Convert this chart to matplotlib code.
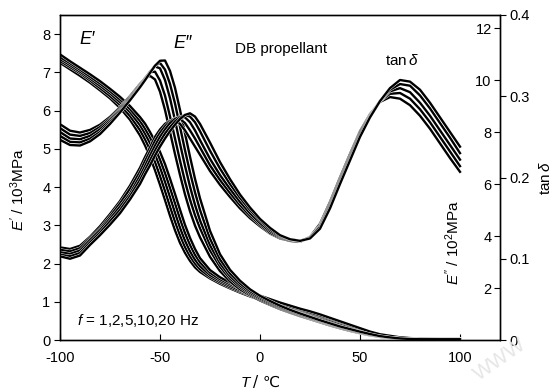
import matplotlib
matplotlib.use("Agg")
import matplotlib.pyplot as plt
import matplotlib.patheffects as pe

plt.rcParams['font.family'] = ['Liberation Sans', 'DejaVu Sans']
plt.rcParams['mathtext.fontset'] = 'custom'
plt.rcParams['mathtext.rm'] = 'Liberation Sans'
plt.rcParams['mathtext.it'] = 'Liberation Sans:italic'
plt.rcParams['mathtext.bf'] = 'Liberation Sans:bold'
plt.rcParams['axes.unicode_minus'] = False

# ---------------- data ----------------
freqs = [1, 2, 5, 10, 20]
T = [-100, -95, -90, -85, -80, -75, -70, -65, -60, -57.5, -55, -52.5, -50, -47.5, -45,
     -42.5, -40, -37.5, -35, -32.5, -30, -25, -20, -15, -10, -5, 0, 5, 10, 15, 20, 25,
     30, 35, 40, 45, 50, 55, 60, 65, 70, 75, 80, 85, 90, 95, 100]

# storage modulus E' (10^3 MPa)
Ep_1 = [7.25, 7.08, 6.91, 6.73, 6.53, 6.32, 6.07, 5.76, 5.35, 5.09, 4.79, 4.44, 4.06, 3.66, 3.25,
        2.87, 2.54, 2.28, 2.07, 1.90, 1.78, 1.61, 1.47, 1.35, 1.24, 1.14, 1.05, 0.96, 0.88, 0.81, 0.73, 0.65,
        0.57, 0.48, 0.39, 0.30, 0.21, 0.14, 0.10, 0.06, 0.04, 0.03, 0.03, 0.03, 0.02, 0.02, 0.02]
Ep_2 = [7.30, 7.14, 6.98, 6.79, 6.59, 6.38, 6.15, 5.86, 5.49, 5.25, 4.98, 4.66, 4.29, 3.90, 3.49,
        3.10, 2.74, 2.43, 2.19, 2.00, 1.85, 1.65, 1.51, 1.38, 1.27, 1.17, 1.08, 0.99, 0.91, 0.83, 0.76, 0.68,
        0.59, 0.50, 0.41, 0.32, 0.24, 0.16, 0.11, 0.07, 0.045, 0.035, 0.03, 0.03, 0.03, 0.03, 0.03]
Ep_5 = [7.35, 7.19, 7.02, 6.84, 6.65, 6.45, 6.22, 5.96, 5.62, 5.40, 5.15, 4.86, 4.52, 4.14, 3.74,
        3.33, 2.94, 2.60, 2.32, 2.10, 1.93, 1.70, 1.55, 1.42, 1.30, 1.20, 1.10, 1.02, 0.93, 0.85, 0.78, 0.70,
        0.62, 0.53, 0.44, 0.35, 0.26, 0.18, 0.12, 0.08, 0.05, 0.04, 0.03, 0.03, 0.03, 0.03, 0.03]
Ep_10 = [7.40, 7.24, 7.07, 6.89, 6.71, 6.51, 6.29, 6.04, 5.73, 5.53, 5.30, 5.03, 4.72, 4.37, 3.98,
         3.58, 3.17, 2.80, 2.49, 2.23, 2.03, 1.76, 1.59, 1.46, 1.34, 1.23, 1.13, 1.04, 0.95, 0.87, 0.80, 0.72,
         0.64, 0.56, 0.47, 0.38, 0.29, 0.20, 0.14, 0.09, 0.06, 0.045, 0.035, 0.03, 0.03, 0.03, 0.03]
Ep_20 = [7.47, 7.29, 7.12, 6.95, 6.77, 6.57, 6.36, 6.12, 5.83, 5.66, 5.44, 5.20, 4.92, 4.60, 4.22,
         3.82, 3.41, 3.01, 2.67, 2.38, 2.14, 1.83, 1.64, 1.50, 1.37, 1.26, 1.16, 1.07, 0.98, 0.90, 0.82, 0.75,
         0.67, 0.58, 0.49, 0.40, 0.31, 0.22, 0.15, 0.11, 0.07, 0.05, 0.04, 0.035, 0.03, 0.03, 0.03]

# loss modulus E'' (10^2 MPa)
Epp_1 = [8.30, 8.05, 7.98, 8.08, 8.28, 8.58, 8.95, 9.38, 9.85, 10.06, 10.16, 10.02, 9.55, 8.85, 8.00,
         7.15, 6.35, 5.60, 4.95, 4.40, 3.95, 3.20, 2.65, 2.25, 1.95, 1.72, 1.52, 1.35, 1.19, 1.05, 0.92, 0.80,
         0.68, 0.56, 0.45, 0.35, 0.26, 0.18, 0.12, 0.07, 0.04, 0.03, 0.02, 0.02, 0.02, 0.02, 0.02]
Epp_2 = [8.15, 7.90, 7.85, 7.96, 8.19, 8.51, 8.90, 9.34, 9.82, 10.07, 10.30, 10.32, 9.98, 9.40, 8.60,
         7.75, 6.90, 6.10, 5.40, 4.80, 4.30, 3.45, 2.82, 2.36, 2.03, 1.77, 1.56, 1.38, 1.22, 1.07, 0.94, 0.82,
         0.70, 0.58, 0.46, 0.36, 0.27, 0.19, 0.12, 0.08, 0.05, 0.03, 0.02, 0.02, 0.02, 0.02, 0.02]
Epp_5 = [8.00, 7.75, 7.72, 7.85, 8.10, 8.45, 8.85, 9.30, 9.78, 10.05, 10.32, 10.52, 10.45, 10.00, 9.30,
         8.45, 7.55, 6.70, 5.90, 5.20, 4.60, 3.65, 2.95, 2.45, 2.10, 1.82, 1.60, 1.42, 1.25, 1.10, 0.97, 0.84,
         0.72, 0.60, 0.48, 0.38, 0.28, 0.20, 0.13, 0.08, 0.05, 0.03, 0.02, 0.02, 0.02, 0.02, 0.02]
Epp_10 = [7.85, 7.62, 7.60, 7.74, 8.00, 8.38, 8.80, 9.26, 9.75, 10.02, 10.30, 10.55, 10.66, 10.40, 9.85,
          9.10, 8.20, 7.30, 6.45, 5.68, 5.00, 3.90, 3.10, 2.56, 2.18, 1.88, 1.65, 1.46, 1.28, 1.13, 0.99, 0.86,
          0.74, 0.62, 0.50, 0.40, 0.30, 0.21, 0.14, 0.09, 0.06, 0.04, 0.02, 0.02, 0.02, 0.02, 0.02]
Epp_20 = [7.70, 7.50, 7.48, 7.64, 7.92, 8.31, 8.75, 9.22, 9.72, 9.99, 10.27, 10.55, 10.74, 10.75, 10.35,
          9.70, 8.85, 7.95, 7.05, 6.20, 5.45, 4.20, 3.30, 2.70, 2.28, 1.95, 1.70, 1.50, 1.32, 1.16, 1.02, 0.89,
          0.76, 0.64, 0.52, 0.42, 0.32, 0.23, 0.15, 0.10, 0.06, 0.04, 0.03, 0.03, 0.03, 0.03, 0.03]

# loss factor tan(delta)
tand_1 = [0.114, 0.112, 0.116, 0.127, 0.140, 0.155, 0.171, 0.190, 0.212, 0.225, 0.237, 0.250, 0.259, 0.266, 0.270,
          0.270, 0.266, 0.258, 0.248, 0.238, 0.228, 0.208, 0.191, 0.176, 0.162, 0.150, 0.140, 0.131, 0.125, 0.122, 0.121, 0.127,
          0.143, 0.170, 0.200, 0.229, 0.257, 0.278, 0.293, 0.299, 0.297, 0.289, 0.276, 0.260, 0.242, 0.224, 0.207]
tand_2 = [0.111, 0.109, 0.113, 0.125, 0.137, 0.152, 0.168, 0.186, 0.207, 0.220, 0.232, 0.245, 0.255, 0.263, 0.269,
          0.273, 0.272, 0.267, 0.258, 0.248, 0.237, 0.215, 0.197, 0.181, 0.166, 0.153, 0.142, 0.132, 0.126, 0.122, 0.121, 0.126,
          0.141, 0.168, 0.198, 0.227, 0.256, 0.277, 0.294, 0.303, 0.304, 0.297, 0.284, 0.268, 0.250, 0.232, 0.214]
tand_5 = [0.108, 0.106, 0.110, 0.123, 0.135, 0.149, 0.164, 0.180, 0.202, 0.214, 0.227, 0.239, 0.250, 0.259, 0.267,
          0.272, 0.275, 0.274, 0.268, 0.258, 0.246, 0.223, 0.203, 0.186, 0.170, 0.156, 0.144, 0.134, 0.127, 0.123, 0.122, 0.126,
          0.140, 0.166, 0.196, 0.225, 0.254, 0.276, 0.294, 0.306, 0.310, 0.305, 0.292, 0.276, 0.258, 0.240, 0.222]
tand_10 = [0.105, 0.103, 0.107, 0.120, 0.132, 0.146, 0.160, 0.177, 0.197, 0.209, 0.221, 0.233, 0.244, 0.254, 0.262,
           0.269, 0.274, 0.277, 0.275, 0.268, 0.257, 0.233, 0.211, 0.192, 0.175, 0.160, 0.147, 0.136, 0.128, 0.124, 0.122, 0.126,
           0.139, 0.164, 0.194, 0.223, 0.252, 0.275, 0.294, 0.308, 0.315, 0.313, 0.301, 0.285, 0.267, 0.249, 0.230]
tand_20 = [0.103, 0.100, 0.104, 0.117, 0.129, 0.142, 0.156, 0.173, 0.192, 0.204, 0.215, 0.227, 0.238, 0.248, 0.257,
           0.265, 0.272, 0.277, 0.279, 0.275, 0.266, 0.243, 0.219, 0.198, 0.179, 0.163, 0.149, 0.138, 0.129, 0.124, 0.122, 0.125,
           0.137, 0.162, 0.192, 0.221, 0.250, 0.274, 0.294, 0.310, 0.320, 0.318, 0.308, 0.292, 0.274, 0.256, 0.238]

Ep_series = [Ep_1, Ep_2, Ep_5, Ep_10, Ep_20]
Epp_series = [Epp_1, Epp_2, Epp_5, Epp_10, Epp_20]
tand_series = [tand_1, tand_2, tand_5, tand_10, tand_20]

x_ticks = [-100, -50, 0, 50, 100]
Ep_ticks = [0, 1, 2, 3, 4, 5, 6, 7, 8]
Epp_ticks = [2, 4, 6, 8, 10, 12]
tand_ticks = [0, 0.1, 0.2, 0.3, 0.4]
tand_ticklabels = ["0", "0.1", "0.2", "0.3", "0.4"]

# ---------------- figure ----------------
fig = plt.figure(figsize=(5.6, 3.92), dpi=100)
ax = fig.add_axes([60/560, 1-340/392, 440/560, 325/392])
ax2 = ax.twinx()
ax3 = ax.twinx()

line_fx = [pe.Stroke(linewidth=2.3, foreground='white'), pe.Normal()]
lw = 1.7
for ys in Ep_series:
    ax.plot(T, ys, color='black', lw=lw, path_effects=line_fx, solid_joinstyle='round')
for ys in tand_series:
    ax3.plot(T, ys, color='black', lw=lw, path_effects=line_fx, solid_joinstyle='round')
for ys in Epp_series:
    ax2.plot(T, ys, color='black', lw=lw, path_effects=line_fx, solid_joinstyle='round')

ax.set_xlim(-100, 120)
ax.set_ylim(0, 8.5)
ax2.set_ylim(0, 12.5)
ax3.set_ylim(0, 0.4)

tick_fs = 10.5
ax.set_xticks(x_ticks)
ax.set_yticks(Ep_ticks)
ax.tick_params(axis='x', direction='in', length=4, width=0.8, pad=8, labelsize=tick_fs, top=False)
ax.tick_params(axis='y', direction='out', length=4, width=0.8, pad=3, labelsize=tick_fs, right=False)

ax2.set_yticks(Epp_ticks)
ax2.set_yticklabels([str(v) for v in Epp_ticks], ha='right')
ax2.tick_params(axis='y', direction='in', length=4, width=0.8, pad=-6, labelsize=tick_fs)

ax3.set_yticks(tand_ticks)
ax3.set_yticklabels(tand_ticklabels)
ax3.tick_params(axis='y', direction='out', length=4, width=0.8, pad=3, labelsize=tick_fs)

for a in (ax, ax2, ax3):
    for s in a.spines.values():
        s.set_linewidth(0.9)

# axis labels
fig.text(18/560, 1-189/392, r"$E'$ / 10$^3$MPa", rotation=90, ha='center', va='center', fontsize=11)
fig.text(453/560, 1-242/392, r"$E''$ / 10$^2$MPa", rotation=90, ha='center', va='center', fontsize=11)
fig.text(546/560, 1-178/392, r"tan$\,\delta$", rotation=90, ha='center', va='center', fontsize=11)
fig.text(250/560, 1-383/392, "T", ha='right', va='center', fontsize=11, fontstyle='italic')
fig.text(253/560, 1-383/392, "/ ℃", ha='left', va='center', fontsize=11,
         family=['DejaVu Sans'])

# annotations
ital = dict(fontstyle='italic', family=['Liberation Sans', 'DejaVu Sans'])
ax.text(-86.5, 7.86, "E\u2032", ha='center', va='center', fontsize=13, **ital)
ax.text(-38.5, 7.75, "E\u2033", ha='center', va='center', fontsize=13, **ital)
ax.text(10.5, 7.62, "DB propellant", ha='center', va='center', fontsize=11)
ax.text(71, 7.3, r"tan$\,\delta$", ha='center', va='center', fontsize=11)
ax.text(-91.5, 0.5, r"$f$ = 1,2,5,10,20 Hz", ha='left', va='center', fontsize=11)

# faint watermark
fig.text(500/560, 1-360/392, "WWW", rotation=35, ha='center', va='center', fontsize=15,
         color='#e6e6e6', zorder=0)

fig.savefig("out.png", dpi=100)
